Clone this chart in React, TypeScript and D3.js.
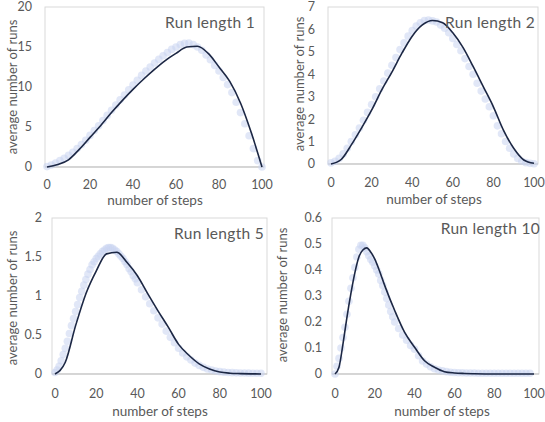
import { useEffect } from "react";
import * as d3 from "d3";

// ---- data ----
const steps5 = [0, 5, 10, 15, 20, 25, 30, 35, 40, 45, 50, 55, 60, 65, 70, 75, 80, 85, 90, 95, 100];
const steps2 = d3.range(0, 101, 2);

// Run length 1
const line1 = [0, 0.3, 0.9, 2.2, 3.7, 5.2, 6.8, 8.3, 9.7, 11.0, 12.2, 13.3, 14.2, 15.0, 15.1, 14.2, 12.5, 10.7, 8.0, 4.3, 0];
const dots1 = [
  0.05, 0.25, 0.5, 0.8, 1.1, 1.45, 1.85, 2.3, 2.8, 3.35, 3.95, 4.55, 5.15, 5.8, 6.45, 7.1, 7.75, 8.4, 9.0, 9.65,
  10.25, 10.85, 11.45, 12.0, 12.5, 13.0, 13.45, 13.9, 14.3, 14.7, 15.0, 15.3, 15.45, 15.5, 15.3, 15.0,
  14.6, 14.0, 13.4, 12.7, 12.0, 11.2, 10.3, 9.3, 8.1, 6.8, 5.4, 3.9, 2.3, 0.8, 0,
];

// Run length 2
const line2 = [0, 0.2, 0.85, 1.6, 2.4, 3.3, 4.1, 4.95, 5.7, 6.2, 6.4, 6.3, 5.85, 5.2, 4.35, 3.45, 2.55, 1.5, 0.7, 0.18, 0.03];
const dots2 = [
  0.05, 0.12, 0.25, 0.45, 0.7, 1.0, 1.3, 1.6, 1.95, 2.3, 2.65, 3.0, 3.35, 3.7, 4.05, 4.4, 4.75, 5.1, 5.4, 5.7,
  5.95, 6.15, 6.3, 6.4, 6.42, 6.38, 6.33, 6.2, 6.05, 5.85, 5.6, 5.33, 5.05, 4.7, 4.35, 4.0,
  3.6, 3.25, 2.9, 2.55, 2.15, 1.7, 1.35, 1.0, 0.7, 0.45, 0.25, 0.12, 0.06, 0.03, 0.01,
];

// Run length 5
const line5 = [0, 0.15, 0.62, 1.03, 1.32, 1.54, 1.56, 1.43, 1.26, 1.03, 0.81, 0.6, 0.38, 0.24, 0.13, 0.065, 0.025, 0.01, 0.005, 0.002, 0];
const dotsX5 = [...d3.range(0, 41), ...d3.range(42, 101, 2)];
const dots5 = [
  0.02, 0.05, 0.1, 0.17, 0.25, 0.33, 0.42, 0.52, 0.62, 0.71, 0.8, 0.89, 0.98, 1.06, 1.14, 1.21, 1.28, 1.34, 1.4, 1.44,
  1.48, 1.51, 1.54, 1.57, 1.59, 1.61, 1.62, 1.62, 1.61, 1.59, 1.57, 1.54, 1.51, 1.48, 1.44, 1.4, 1.35, 1.31, 1.26, 1.22,
  1.17, 1.08, 0.99, 0.9, 0.81, 0.72, 0.64, 0.55, 0.47, 0.4, 0.33, 0.27, 0.22, 0.18, 0.14, 0.11, 0.085, 0.065, 0.05,
  0.038, 0.03, 0.024, 0.02, 0.017, 0.015, 0.013, 0.012, 0.011, 0.01, 0.01, 0.01,
];

// Run length 10
const lineX10 = [0, 2, 4, 6, 8, 10, 12, 14, 16, 18, 20, 22, 25, 30, 35, 40, 45, 50, 55, 60, 65, 70, 80, 90, 100];
const line10 = [0, 0.026, 0.115, 0.218, 0.31, 0.39, 0.45, 0.477, 0.485, 0.468, 0.442, 0.404, 0.34, 0.244, 0.16, 0.103, 0.051, 0.026, 0.009, 0.004, 0.002, 0.001, 0, 0, 0];
const dotsX10 = [...d3.range(0, 31), ...d3.range(32, 101, 2)];
const dots10 = [
  0, 0.03, 0.06, 0.1, 0.14, 0.18, 0.23, 0.28, 0.33, 0.37, 0.41, 0.45, 0.48, 0.495, 0.495, 0.485, 0.47, 0.455, 0.44, 0.43,
  0.415, 0.4, 0.385, 0.36, 0.34, 0.315, 0.29, 0.265, 0.24, 0.22, 0.2,
  0.175, 0.15, 0.13, 0.11, 0.095, 0.07, 0.05, 0.038, 0.028, 0.02, 0.015, 0.012, 0.009, 0.007, 0.006, 0.005, 0.005,
  0.004, 0.004, 0.004, 0.003, 0.003, 0.003, 0.003, 0.003, 0.003, 0.003, 0.003, 0.003, 0.003, 0.003, 0.003, 0.003, 0.003,
];

const xTicks = [0, 20, 40, 60, 80, 100];
const yTicks1 = [0, 5, 10, 15, 20];
const yTicks2 = [0, 1, 2, 3, 4, 5, 6, 7];
const yTicks5 = [0, 0.5, 1, 1.5, 2];
const yTicks10 = [0, 0.1, 0.2, 0.3, 0.4, 0.5, 0.6];
const titles = ["Run length 1", "Run length 2", "Run length 5", "Run length 10"];

// ---- layout ----
const panels = [
  { title: titles[0], lx: steps5, ly: line1, dx: steps2, dy: dots1, ticks: yTicks1,
    box: [45, 7, 264, 167], xr: [47, 262], titleX: 255, titleY: 23, xTitle: [155, 200], yTitle: [12, 87], labGap: 13, xLabY: 185 },
  { title: titles[1], lx: steps5, ly: line2, dx: steps2, dy: dots2, ticks: yTicks2,
    box: [328, 7, 538, 164], xr: [331, 534], titleX: 535, titleY: 23, xTitle: [434, 199], yTitle: [299, 84], labGap: 13, xLabY: 183 },
  { title: titles[2], lx: steps5, ly: line5, dx: dotsX5, dy: dots5, ticks: yTicks5,
    box: [52, 218, 267, 374], xr: [55, 261], titleX: 264, titleY: 234, xTitle: [160, 411], yTitle: [12, 298], labGap: 10, xLabY: 394 },
  { title: titles[3], lx: lineX10, ly: line10, dx: dotsX10, dy: dots10, ticks: yTicks10,
    box: [332, 218, 539, 374], xr: [335, 534], titleX: 540, titleY: 229, xTitle: [442, 411], yTitle: [282, 295], labGap: 10, xLabY: 394 },
];

const font = "Lato, 'Open Sans', sans-serif";
const textColor = "#595959";

function Panel({ p }: { p: any }) {
  const [L, T, R, B] = p.box;
  const x = d3.scaleLinear().domain([0, 100]).range(p.xr);
  const y = d3.scaleLinear().domain([0, p.ticks[p.ticks.length - 1]]).range([B, T]);
  const line = d3
    .line<number>()
    .x((_, i) => x(p.lx[i]))
    .y((d) => y(d))
    .curve(d3.curveMonotoneX);
  return (
    <g fontFamily={font} fill={textColor}>
      <rect x={L} y={T} width={R - L} height={B - T} fill="none" stroke="#d9d9d9" strokeWidth={1} />
      <line x1={L} x2={R} y1={B} y2={B} stroke="#bfbfbf" strokeWidth={1} />
      {p.ticks.map((t: number) => (
        <text key={t} x={L - p.labGap} y={y(t)} dy="0.35em" textAnchor="end" fontSize={12.5}>
          {String(+t.toFixed(2))}
        </text>
      ))}
      {xTicks.map((t) => (
        <text key={t} x={x(t)} y={p.xLabY} dy="0.35em" textAnchor="middle" fontSize={12.5}>
          {t}
        </text>
      ))}
      <g fill="#c9d4f1" fillOpacity={0.55}>
        {p.dy.map((d: number, i: number) => (
          <circle key={i} cx={x(p.dx[i])} cy={y(d)} r={3.8} />
        ))}
      </g>
      <path d={line(p.ly) || ""} fill="none" stroke="#1c2744" strokeWidth={1.6} strokeLinejoin="round" />
      <text x={p.titleX} y={p.titleY} dy="0.35em" textAnchor="end" fontSize={15.5} letterSpacing={0.3}>
        {p.title}
      </text>
      <text x={p.xTitle[0]} y={p.xTitle[1]} dy="0.35em" textAnchor="middle" fontSize={13.5}>
        number of steps
      </text>
      <text
        transform={`translate(${p.yTitle[0]},${p.yTitle[1]}) rotate(-90)`}
        dy="0.35em"
        textAnchor="middle"
        fontSize={13}
      >
        average number of runs
      </text>
    </g>
  );
}

export default function App() {
  useEffect(() => {
    document.body.style.margin = "0";
  }, []);
  return (
    <svg width={545} height={422} style={{ display: "block", background: "#fff" }}>
      {panels.map((p) => (
        <Panel key={p.title} p={p} />
      ))}
    </svg>
  );
}
